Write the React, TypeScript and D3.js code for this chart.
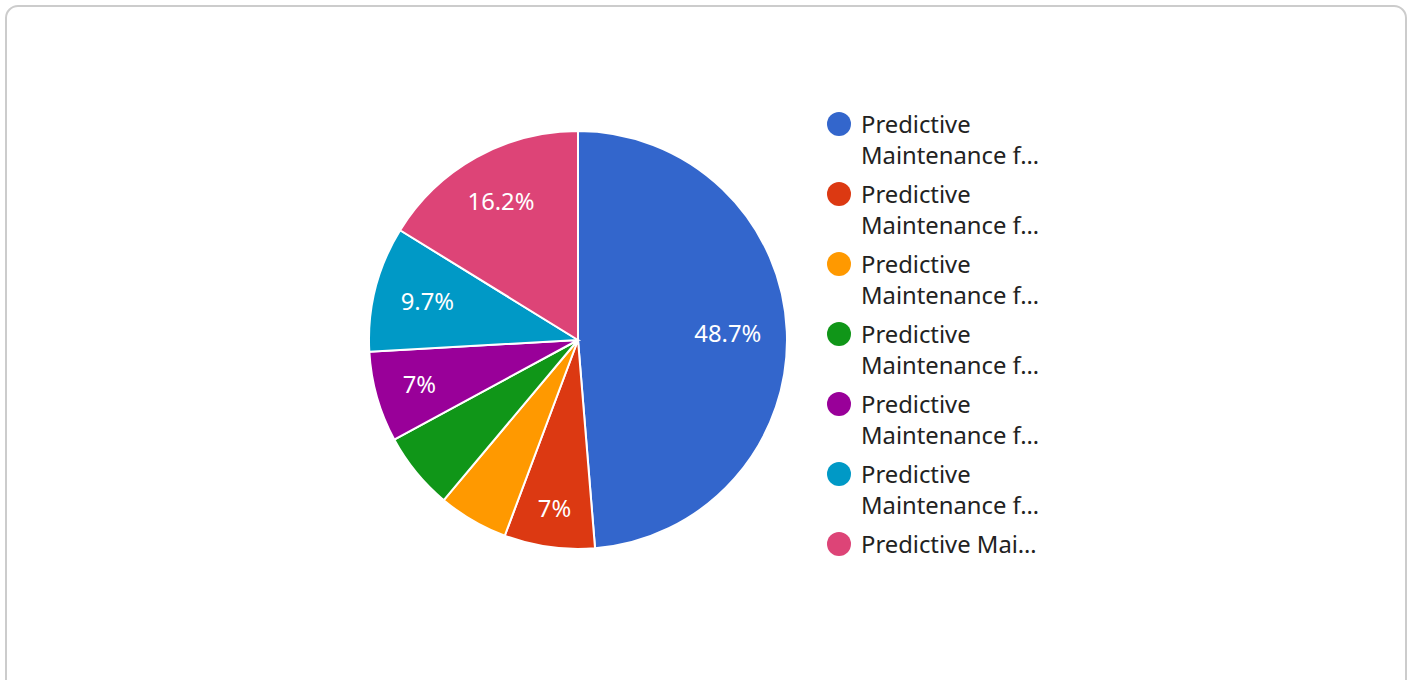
import { useRef, useEffect } from 'react';
import * as d3 from 'd3';

const shares = [48.7, 7.0, 5.4, 6.0, 7.0, 9.7, 16.2];
const colors = ['#3366cc', '#dc3912', '#ff9900', '#109618', '#990099', '#0099c6', '#dd4477'];
const legendLines = [
  ['Predictive', 'Maintenance f…'],
  ['Predictive', 'Maintenance f…'],
  ['Predictive', 'Maintenance f…'],
  ['Predictive', 'Maintenance f…'],
  ['Predictive', 'Maintenance f…'],
  ['Predictive', 'Maintenance f…'],
  ['Predictive Mai…'],
];
const shownLabels = [true, true, false, false, true, true, true];

const W = 1412;
const H = 680;
const FONT = 23.8;

const App = () => {
  const svgRef = useRef<SVGSVGElement>(null);

  useEffect(() => {
    const svg = d3.select(svgRef.current);
    svg.selectAll('*').remove();

    svg.append('rect')
      .attr('x', 6).attr('y', 6)
      .attr('width', 1400).attr('height', 700)
      .attr('rx', 12)
      .attr('fill', '#fff')
      .attr('stroke', '#cccccc')
      .attr('stroke-width', 2);

    const cx = 578;
    const cy = 340;
    const r = 209;

    const pie = d3.pie<number>().sort(null).value(d => d);
    const arcs = pie(shares);
    const arc = d3.arc<d3.PieArcDatum<number>>().innerRadius(0).outerRadius(r);

    const g = svg.append('g').attr('transform', `translate(${cx},${cy})`);

    g.selectAll('path')
      .data(arcs)
      .join('path')
      .attr('d', arc)
      .attr('fill', (_, i) => colors[i])
      .attr('stroke', '#fff')
      .attr('stroke-width', 2);

    // labels sit on the bisector, pushed out until the text box reaches 0.88r
    const labels = g.selectAll<SVGTextElement, d3.PieArcDatum<number>>('text')
      .data(arcs.filter((_, i) => shownLabels[i]))
      .join('text')
      .attr('text-anchor', 'middle')
      .attr('dy', '0.35em')
      .attr('fill', '#fff')
      .attr('font-size', FONT)
      .text(d => `${d3.format('~')(d.value)}%`);

    labels.attr('transform', function (d) {
      const a = (d.startAngle + d.endAngle) / 2;
      const ux = Math.sin(a);
      const uy = -Math.cos(a);
      const hw = this.getComputedTextLength() / 2;
      const hh = 11;
      const dist = r * 0.88 - (Math.abs(ux) * hw + Math.abs(uy) * hh);
      return `translate(${ux * dist},${uy * dist})`;
    });

    const legend = svg.append('g').attr('transform', 'translate(839,124)');
    const item = legend.selectAll('g')
      .data(legendLines)
      .join('g')
      .attr('transform', (_, i) => `translate(0,${i * 70})`);

    item.append('circle')
      .attr('r', 12)
      .attr('fill', (_, i) => colors[i]);

    item.append('text')
      .attr('y', 8.5)
      .attr('fill', '#222')
      .attr('font-size', FONT)
      .selectAll('tspan')
      .data(d => d)
      .join('tspan')
      .attr('x', 22)
      .attr('dy', (_, j) => (j === 0 ? 0 : 31))
      .text(d => d);
  }, []);

  return (
    <svg
      ref={svgRef}
      width={W}
      height={H}
      style={{ position: 'absolute', left: 0, top: 0, fontFamily: '"Noto Sans", sans-serif' }}
    />
  );
};

export default App;
